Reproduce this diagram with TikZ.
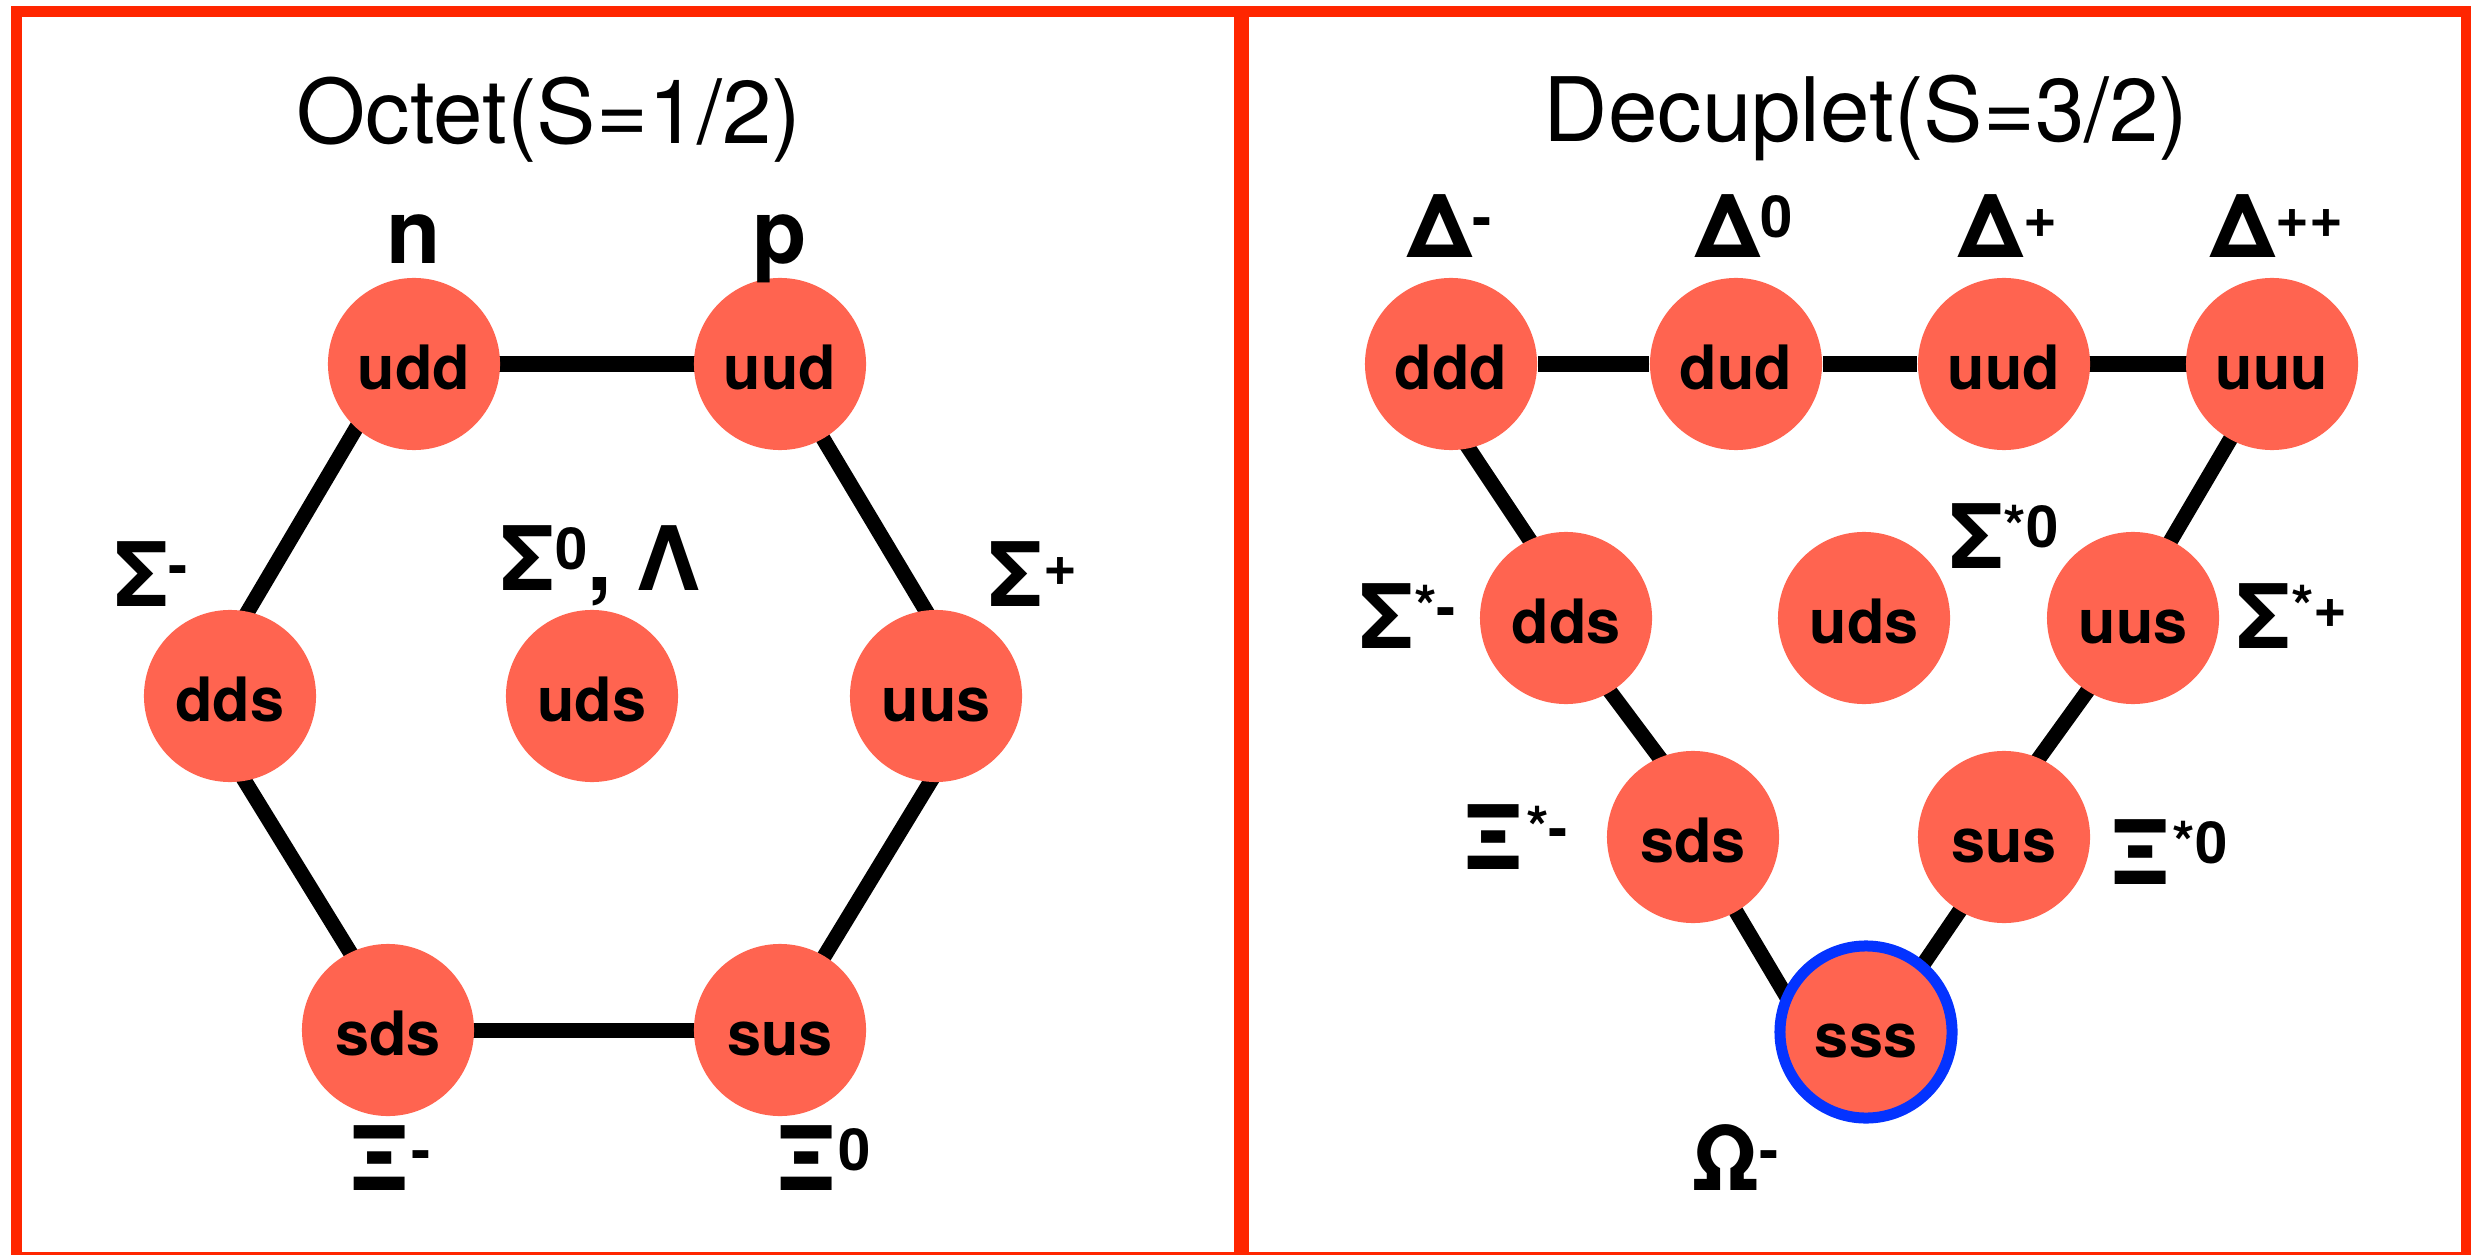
\documentclass[tikz,border=0pt]{standalone}
\usepackage{fontspec}
\setmainfont{TeX Gyre Heros}
\usetikzlibrary{backgrounds}
\definecolor{framered}{RGB}{255,38,0}
\definecolor{quarkfill}{RGB}{255,100,80}
\definecolor{omegablue}{RGB}{4,51,255}
\newcommand\chg[1]{\raisebox{.2cm}{\fontsize{16.5}{16.5}\selectfont #1}}
\begin{document}
\begin{tikzpicture}[x = .01cm, y = -.01cm,
    quark/.style = {circle, fill = quarkfill, minimum size = 1.72cm,
      inner sep = 0pt, text height = .5cm, text depth = 0pt,
      font = \fontsize{17.4}{17.4}\selectfont\bfseries},
    omega/.style = {quark, draw = omegablue, line width = .11cm},
    particle/.style = {anchor = base, inner sep = 0pt,
      font = \fontsize{25.3}{25.3}\selectfont\bfseries},
    heading/.style = {anchor = base, inner sep = 0pt,
      font = \fontsize{25.3}{25.3}\selectfont},
    bond/.style = {line width = .15cm, shorten <= -3pt, shorten >= -3pt},
    panel/.style = {draw = framered, line width = .105cm}]
  \useasboundingbox (0,0) rectangle (2479,1255);
  \draw [panel] (16.5,11.5) rectangle (1239.5,1257);
  \draw [panel] (1244,11.5) rectangle (2466,1257);

  % octet
  \node [heading] (octet) at (549,144) {Octet(S=1/2)};
  \node [quark] (udd8) at (414,364) {udd};
  \node [quark] (uud8) at (780,364) {uud};
  \node [quark] (dds8) at (230,696) {dds};
  \node [quark] (uds8) at (592,696) {uds};
  \node [quark] (uus8) at (936,696) {uus};
  \node [quark] (sds8) at (388,1030) {sds};
  \node [quark] (sus8) at (780,1030) {sus};
  \node [particle] (n) at (414,264) {n};
  \node [particle] (p) at (780,264) {p};
  \node [particle] (sigmam) at (151,606) {Σ\chg{-}};
  \node [particle] (sigma0) at (601,590) {Σ\chg{0}, Λ};
  \node [particle] (sigmap) at (1033,606) {Σ\chg{+}};
  \node [particle] (xim) at (389,1190) {Ξ\chg{-}};
  \node [particle] (xi0) at (823,1190) {Ξ\chg{0}};

  % decuplet
  \node [heading] (decuplet) at (1866,142) {Decuplet(S=3/2)};
  \node [quark] (ddd10) at (1451,364) {ddd};
  \node [quark] (dud10) at (1736,364) {dud};
  \node [quark] (uud10) at (2004,364) {uud};
  \node [quark] (uuu10) at (2272,364) {uuu};
  \node [quark] (dds10) at (1566,618) {dds};
  \node [quark] (uds10) at (1864,618) {uds};
  \node [quark] (uus10) at (2133,618) {uus};
  \node [quark] (sds10) at (1693,837) {sds};
  \node [quark] (sus10) at (2004,837) {sus};
  \node [omega] (sss10) at (1866,1032) {sss};
  \node [particle] (deltam) at (1450,258) {Δ\chg{-}};
  \node [particle] (delta0) at (1744,258) {Δ\chg{0}};
  \node [particle] (deltap) at (2008,258) {Δ\chg{+}};
  \node [particle] (deltapp) at (2277,258) {Δ\chg{++}};
  \node [particle] (sigmasm) at (1408,648) {Σ\chg{*-}};
  \node [particle] (sigmas0) at (2004,568) {Σ\chg{*0}};
  \node [particle] (sigmasp) at (2292,648) {Σ\chg{*+}};
  \node [particle] (xism) at (1515,869) {Ξ\chg{*-}};
  \node [particle] (xis0) at (2168,884) {Ξ\chg{*0}};
  \node [particle] (omegam) at (1735,1190) {Ω\chg{-}};

  \begin{pgfonlayer}{background}
    \draw [bond] (udd8) -- (uud8);
    \draw [bond] (sds8) -- (sus8);
    \draw [bond] (udd8.228) -- (dds8.78);
    \draw [bond] (uud8.-60) -- (uus8.97);
    \draw [bond] (dds8.-80) -- (sds8.116);
    \draw [bond] (uus8.-94) -- (sus8.59);
    \draw [bond] (ddd10) -- (dud10) -- (uud10) -- (uuu10);
    \draw [bond] (ddd10.-78) -- (dds10.115);
    \draw [bond] (dds10.-59) -- (sds10.113);
    \draw [bond] (sds10.-60) -- (sss10.154);
    \draw [bond] (uuu10.-119) -- (uus10.64);
    \draw [bond] (uus10.-122) -- (sus10.66);
    \draw [bond] (sus10.-121) -- (sss10.50);
  \end{pgfonlayer}
\end{tikzpicture}
\end{document}
